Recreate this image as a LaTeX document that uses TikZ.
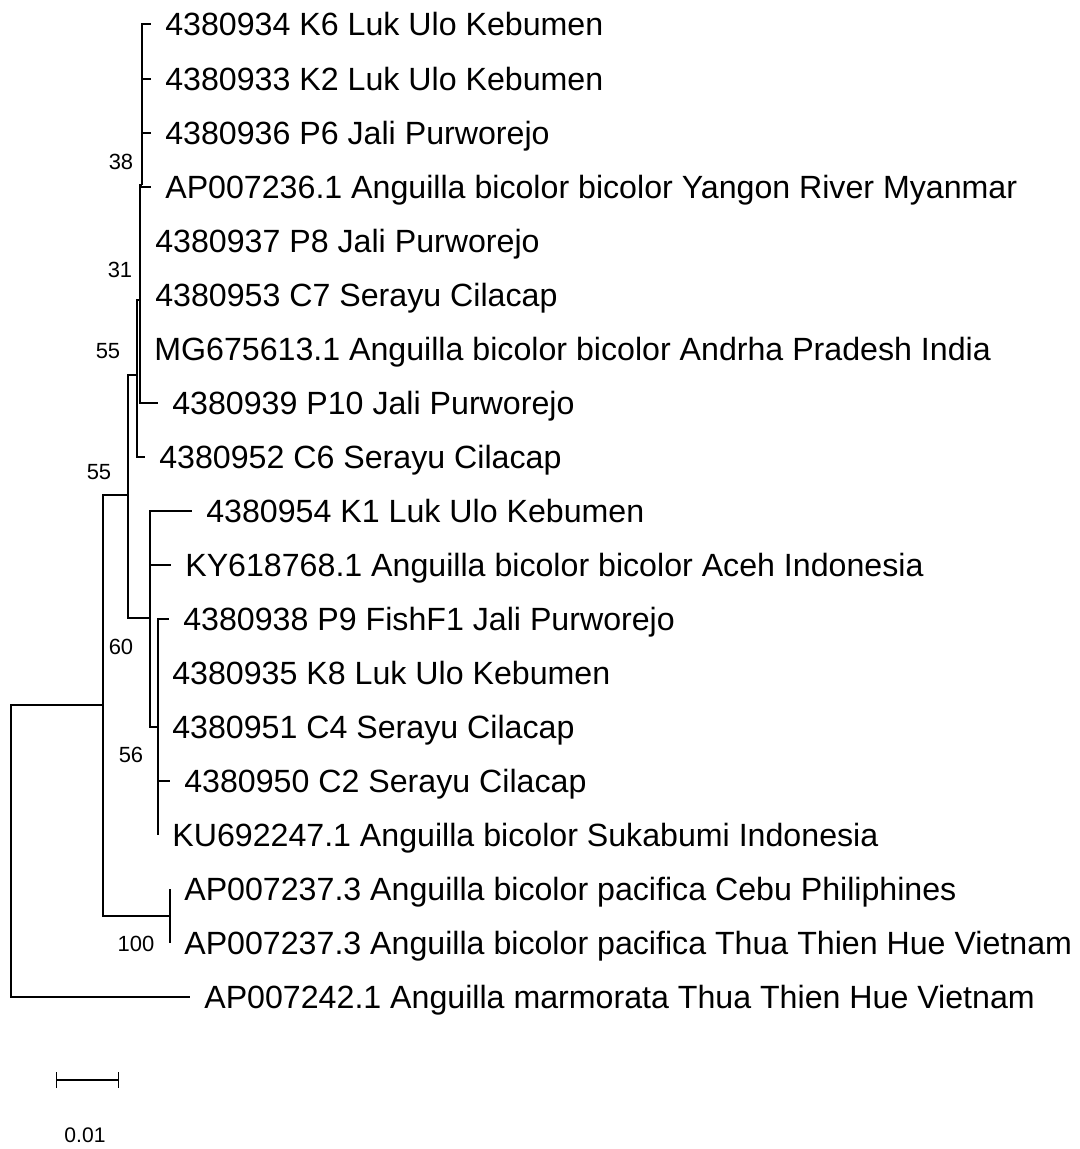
\documentclass[tikz,border=0pt]{standalone}
\usepackage{fontspec}
\setmainfont{Liberation Sans}
\usepackage{tikz}
\usetikzlibrary{arrows.meta,positioning}

\begin{document}
\begin{tikzpicture}
		[x=0.02cm,y=-0.02cm,
		branch/.style={line width=0.75pt},
		leaf/.style={anchor=west,inner xsep=0.28cm,inner ysep=0pt,text height=13.1pt,text depth=0pt,font=\fontsize{18.3}{20}\selectfont},
		boot/.style={inner sep=0pt,font=\fontsize{12.5}{14}\selectfont}]
		\useasboundingbox (0,0) rectangle (1079,1149);
		% leaves
		\node[leaf] (k6) at (151,24) {4380934 K6 Luk Ulo Kebumen};
		\node[leaf] (k2) at (151,79) {4380933 K2 Luk Ulo Kebumen};
		\node[leaf] (p6) at (151,133) {4380936 P6 Jali Purworejo};
		\node[leaf] (ap236) at (151,187) {AP007236.1 Anguilla bicolor bicolor Yangon River Myanmar};
		\node[leaf] (p8) at (141,241) {4380937 P8 Jali Purworejo};
		\node[leaf] (c7) at (141,295) {4380953 C7 Serayu Cilacap};
		\node[leaf] (mg) at (140,349) {MG675613.1 Anguilla bicolor bicolor Andrha Pradesh India};
		\node[leaf] (p10) at (158,403) {4380939 P10 Jali Purworejo};
		\node[leaf] (c6) at (145,457) {4380952 C6 Serayu Cilacap};
		\node[leaf] (k1) at (192,511) {4380954 K1 Luk Ulo Kebumen};
		\node[leaf] (ky) at (171,565) {KY618768.1 Anguilla bicolor bicolor Aceh Indonesia};
		\node[leaf] (p9) at (169,619) {4380938 P9 FishF1 Jali Purworejo};
		\node[leaf] (k8) at (158,673) {4380935 K8 Luk Ulo Kebumen};
		\node[leaf] (c4) at (158,727) {4380951 C4 Serayu Cilacap};
		\node[leaf] (c2) at (170,781) {4380950 C2 Serayu Cilacap};
		\node[leaf] (ku) at (158,835) {KU692247.1 Anguilla bicolor Sukabumi Indonesia};
		\node[leaf] (cebu) at (170,889) {AP007237.3 Anguilla bicolor pacifica Cebu Philiphines};
		\node[leaf] (hue) at (170,943) {AP007237.3 Anguilla bicolor pacifica Thua Thien Hue Vietnam};
		\node[leaf] (marm) at (190,997) {AP007242.1 Anguilla marmorata Thua Thien Hue Vietnam};
		% inner nodes
		\coordinate (n38) at (142,185);
		\coordinate (n31) at (140,300);
		\coordinate (n55a) at (137,375);
		\coordinate (n55b) at (128,495);
		\coordinate (n56) at (150,618);
		\coordinate (nsub) at (158,727);
		\coordinate (n100) at (170,916);
		\coordinate (n60) at (103,705);
		\coordinate (root) at (11,850);
		% branches
		\draw[branch] (n38) |- (k6.west) (n38) |- (k2.west) (n38) |- (p6.west);
		\draw[branch] (n31) |- (n38) (n31) |- (ap236.west) (n31) |- (p8.west)
			(n31) |- (c7.west) (n31) |- (mg.west) (n31) |- (p10.west);
		\draw[branch] (n55a) |- (n31) (n55a) |- (c6.west);
		\draw[branch] (n55b) |- (n55a) (n55b) |- (n56);
		\draw[branch] (n56) |- (k1.west) (n56) |- (ky.west) (n56) |- (nsub);
		\draw[branch] (nsub) |- (p9.west) (nsub) |- (k8.west) (nsub) |- (c4.west)
			(nsub) |- (c2.west) (nsub) |- (ku.west);
		\draw[branch] (n100) |- (cebu.west) (n100) |- (hue.west);
		\draw[branch] (n60) |- (n55b) (n60) |- (n100);
		\draw[branch] (root) |- (n60) (root) |- (marm.west);
		% bootstrap values
		\node[boot] (b38) at (121,162) {38};
		\node[boot] (b31) at (120,270) {31};
		\node[boot] (b55a) at (108,351) {55};
		\node[boot] (b55b) at (99,472) {55};
		\node[boot] (b60) at (121,647) {60};
		\node[boot] (b56) at (131,755) {56};
		\node[boot] (b100) at (136,944) {100};
		% scale bar
		\coordinate (sbl) at (56,1080);
		\coordinate (sbr) at (119,1080);
		\draw[branch,{Bar[width=0.32cm]}-{Bar[width=0.32cm]}] (sbl) -- (sbr);
		\node[boot,font=\fontsize{12}{14}\selectfont] (sbtext) at (85,1135) {0.01};
\end{tikzpicture}
\end{document}
